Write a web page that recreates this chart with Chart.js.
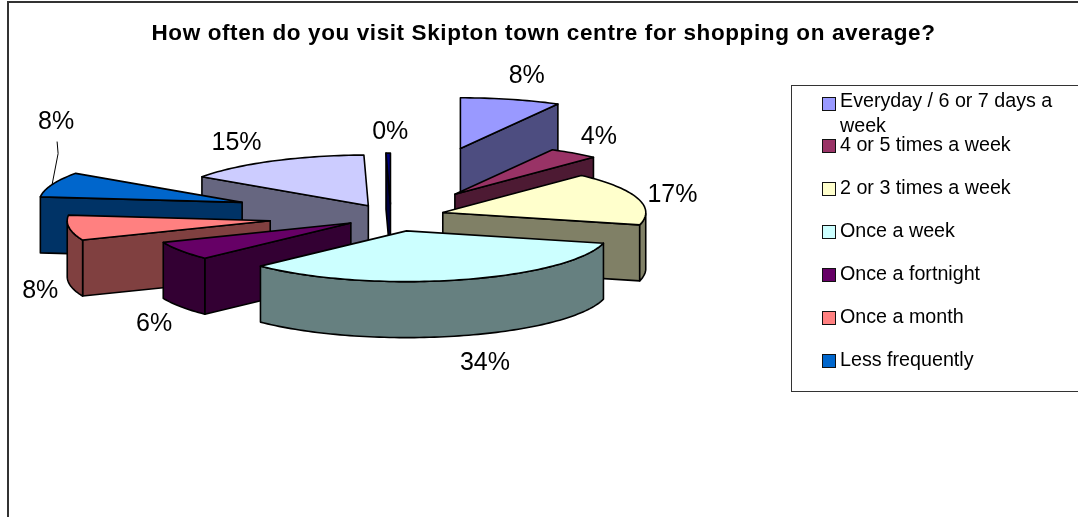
<!DOCTYPE html>
<html>
<head>
<meta charset="utf-8">
<title>Skipton shopping visits</title>
<script src="https://cdn.jsdelivr.net/npm/chart.js@4"></script>
<style>
	html, body { margin: 0; padding: 0; background: #fff; overflow: hidden; }
	#frame { position: absolute; left: 7px; top: 1px; width: 1071px; height: 516px; border-left: 2px solid #333; border-top: 2px solid #333; box-sizing: border-box; }
	#wrap { position: absolute; left: 9px; top: 3px; width: 1069px; height: 514px; }
	#legend { position: absolute; left: 791px; top: 85px; width: 287px; height: 307px; border: 1px solid #333; border-right: none; box-sizing: border-box; font: 19.7px "Liberation Sans", Arial, sans-serif; color: #000; }
	#legend .row { position: absolute; left: 30px; width: 250px; line-height: 25px; }
	#legend .box { position: absolute; left: 0; top: 5px; width: 14px; height: 14px; border: 1.5px solid #111; box-sizing: border-box; }
	#legend .txt { margin-left: 18px; display: block; }
</style>
</head>
<body>
<div id="frame"></div>
<div id="wrap"><canvas id="grafico" width="1069" height="514"></canvas></div>
<div id="legend"></div>
<script>
const categories = ['Everyday / 6 or 7 days a week', '4 or 5 times a week', '2 or 3 times a week', 'Once a week', 'Once a fortnight', 'Once a month', 'Less frequently', 'Other', 'Never'];
const values = [8, 4, 17, 34, 6, 8, 8, 15, 0.35];
const percentLabels = ['8%', '4%', '17%', '34%', '6%', '8%', '8%', '15%', '0%'];
const legendCount = 7; // the box in the original cuts off the last two

const colours = ['#9999FF', '#993366', '#FFFFCC', '#CCFFFF', '#660066', '#FF8080', '#0066CC', '#CCCCFF', '#000080'];
const explode = [280, 109, 54, 60, 48, 122, 159, 48, 50];
const wallDepths = [47, 56, 56, 56, 56, 56, 56, 56, 56];
const drawOrder = [0, 1, 8, 7, 6, 2, 5, 4, 3];
const labelNudge = [[16, -23], [25, -16], [35, -3], [26, 83], [-27, 73], [-29, 63], [4, -62], [-36, -18], [2, -21]];

const tilt = 0.25;

function darken(hex) {
	const n = parseInt(hex.slice(1), 16);
	return 'rgb(' + (n >> 16 & 255) / 2 + ',' + (n >> 8 & 255) / 2 + ',' + (n & 255) / 2 + ')';
}

function poly(ctx, pts, fill) {
	ctx.beginPath();
	pts.forEach(function(p, i) {
		if (i == 0) ctx.moveTo(p[0], p[1]);
		else ctx.lineTo(p[0], p[1]);
	});
	ctx.closePath();
	ctx.fillStyle = fill;
	ctx.fill();
	ctx.stroke();
}

// squashed pie with side walls, angles and radius come from the arc elements
const pie3d = {
	id: 'pie3d',
	afterLayout: function(chart) {
		// title centres on the whole canvas, not the padded pie area
		chart.titleBlock.left = 0;
		chart.titleBlock.right = chart.width;
	},
	beforeDraw: function(chart) {
		chart.ctx.letterSpacing = '0.6px';
	},
	beforeDatasetsDraw: function(chart) {
		chart.ctx.letterSpacing = '0px';
	},
	beforeDatasetDraw: function(chart) {
		const ctx = chart.ctx;
		const arcs = chart.getDatasetMeta(0).data;
		ctx.save();
		ctx.lineJoin = 'round';
		ctx.lineWidth = 1.6;
		ctx.strokeStyle = '#000';
		drawOrder.forEach(function(i) {
			const arc = arcs[i];
			const a = arc.startAngle, b = arc.endAngle, r = arc.outerRadius;
			const m = (a + b) / 2, d = arc.options.offset;
			const cx = arc.x + Math.cos(m) * d;
			const cy = arc.y + Math.sin(m) * d * tilt;
			const at = function(t) {
				return [cx + Math.cos(t) * r, cy + Math.sin(t) * r * tilt];
			};
			const lower = function(p) {
				return [p[0], p[1] + wallDepths[i]];
			};
			const apex = [cx, cy];
			const rim = [];
			const steps = Math.max(3, Math.ceil((b - a) * 40));
			for (let s = 0; s <= steps; s++) rim.push(a + (b - a) * s / steps);
			const wall = darken(colours[i]);

			// faces that look towards the viewer only
			if (-Math.cos(a) > 0.001) poly(ctx, [apex, at(a), lower(at(a)), lower(apex)], wall);
			if (Math.cos(b) > 0.001) poly(ctx, [apex, at(b), lower(at(b)), lower(apex)], wall);
			const front = rim.filter(function(t) { return Math.sin(t) > 0; });
			if (front.length > 1) {
				const top = front.map(at);
				poly(ctx, top.concat(top.map(lower).reverse()), wall);
			}
			poly(ctx, [apex].concat(rim.map(at)), colours[i]);
		});
		ctx.restore();
		return false;
	},
	afterDraw: function(chart) {
		const ctx = chart.ctx;
		const arcs = chart.getDatasetMeta(0).data;
		ctx.save();
		ctx.font = '25px "Liberation Sans", Arial, sans-serif';
		ctx.textAlign = 'center';
		ctx.textBaseline = 'middle';
		ctx.fillStyle = '#000';
		arcs.forEach(function(arc, i) {
			const m = (arc.startAngle + arc.endAngle) / 2, d = arc.options.offset, r = arc.outerRadius;
			const x = arc.x + Math.cos(m) * (d + r);
			const y = arc.y + Math.sin(m) * (d + r) * tilt;
			ctx.fillText(percentLabels[i], x + labelNudge[i][0], y + labelNudge[i][1]);
			if (i == 6) {
				// leader line on the blue slice
				ctx.beginPath();
				ctx.moveTo(x, y);
				ctx.lineTo(x + 6, y - 31);
				ctx.lineTo(x + 5, y - 43);
				ctx.lineWidth = 1;
				ctx.strokeStyle = '#000';
				ctx.stroke();
			}
		});
		ctx.restore();
	}
};

new Chart(document.getElementById('grafico'), {
	type: 'pie',
	data: {
		labels: categories,
		datasets: [{ data: values, backgroundColor: colours, offset: explode, borderWidth: 0 }]
	},
	options: {
		responsive: false,
		animation: false,
		radius: 203,
		layout: { padding: { left: 0, right: 305, top: 0, bottom: 135 } },
		plugins: {
			legend: { display: false },
			tooltip: { enabled: false },
			title: {
				display: true,
				text: 'How often do you visit Skipton town centre for shopping on average?',
				color: '#000',
				font: { family: '"Liberation Sans", Arial, sans-serif', size: 22.5, weight: 'bold', lineHeight: 1.1 },
				padding: { top: 18, bottom: 5 }
			}
		}
	},
	plugins: [pie3d]
});

// legend box, same rows as the original
const legendBox = document.getElementById('legend');
categories.slice(0, legendCount).forEach(function(name, i) {
	const row = document.createElement('div');
	row.className = 'row';
	row.style.top = (i == 0 ? 2 : 46 + (i - 1) * 43) + 'px';
	row.innerHTML = '<span class="box" style="background:' + colours[i] + ';top:' + (i == 0 ? 9 : 7) + 'px"></span><span class="txt">' + name + '</span>';
	legendBox.appendChild(row);
});
</script>
</body>
</html>
